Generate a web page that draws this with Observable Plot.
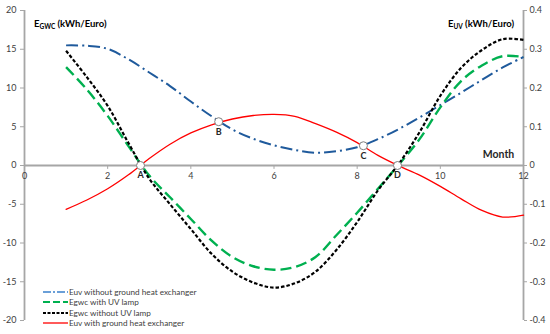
<!DOCTYPE html>
<html><head><meta charset="utf-8">
<script src="https://cdn.jsdelivr.net/npm/d3@7"></script>
<script src="https://cdn.jsdelivr.net/npm/@observablehq/plot@0.6"></script>
<style>
body{margin:0;background:#fff;}
#wrap{position:relative;width:550px;height:334px;font-family:Lato,"Open Sans",sans-serif;}
#wrap svg{display:block;}
.ttl{position:absolute;font-weight:bold;font-size:9.5px;color:#000;white-space:nowrap;line-height:1;}
.ttl sub{font-size:6.5px;vertical-align:-2px;}
#legend{position:absolute;left:43px;top:287px;font-size:8.2px;color:#404040;line-height:10.3px;}
#legend div{display:flex;align-items:center;white-space:nowrap;}
#legend svg{width:25px;height:10px;margin-right:1px;}
</style></head><body><div id="wrap"></div>
<script>
// Months (x) and series
const months = [1,1.5,2,2.5,3,3.5,4,4.5,5,5.5,6,6.5,7,7.5,8,8.5,9,9.5,10,10.5,11,11.5,12];
// E_UV (kWh/Euro), right axis
const euvWithoutGHE = [0.310,0.309,0.301,0.274,0.240,0.205,0.165,0.127,0.093,0.069,0.052,0.040,0.033,0.037,0.047,0.068,0.094,0.124,0.156,0.188,0.221,0.253,0.280];
const euvWithGHE    = [-0.113,-0.089,-0.060,-0.024,0.018,0.055,0.084,0.105,0.120,0.129,0.132,0.127,0.108,0.086,0.059,0.026,-0.001,-0.025,-0.054,-0.086,-0.116,-0.133,-0.128];
// E_GWC (kWh/Euro), left axis
const egwcWithUV    = [12.7,9.8,6.4,2.5,-1.3,-4.1,-6.9,-9.7,-11.8,-13.0,-13.45,-13.1,-11.8,-9.0,-6.1,-3.0,0.1,3.4,7.5,10.9,12.9,14.1,14.0];
const egwcWithoutUV = [14.8,11.4,7.7,2.9,-1.7,-5.0,-8.2,-11.4,-13.7,-15.1,-15.75,-15.2,-13.7,-10.9,-7.3,-3.2,0.2,4.3,9.0,12.6,14.9,16.3,16.2];
// Marked intersections
const pointLabels = ["A","B","C","D"];
const pointMonths = [2.79,4.67,8.15,8.97];
const pointEuv    = [0,0.113,0.051,0];
// Tick labels
const xTicks = [0,2,4,6,8,10,12];
const leftTicks = [-20,-15,-10,-5,0,5,10,15,20];
const rightTicks = [-0.4,-0.3,-0.2,-0.1,0,0.1,0.2,0.3,0.4];
const seriesNames = ["Euv without ground heat exchanger","Egwc with UV lamp","Egwc without UV lamp","Euv with ground heat exchanger"];
const leftTitle = ["E","GWC"," (kWh/Euro)"];
const rightTitle = ["E","UV"," (kWh/Euro)"];
const xTitle = "Month";

const k = 20 / 0.4; // right-axis to left-axis ratio
const axisColor = "#a6a6a6";
const styles = [
  {stroke:"#1f5a9c", strokeWidth:2, strokeDasharray:"12,4,2,4", strokeLinecap:"butt"},
  {stroke:"#00b050", strokeWidth:2.4, strokeDasharray:"11,5", strokeLinecap:"butt"},
  {stroke:"#000000", strokeWidth:2.2, strokeDasharray:"3.5,2", strokeLinecap:"butt"},
  {stroke:"#ff0000", strokeWidth:1.3}
];
const fmtR = d => { const v = Math.round(d / k * 10) / 10; return v === 0 ? "0" : String(v); };

const chart = Plot.plot({
  width: 550, height: 334,
  marginLeft: 24, marginRight: 27, marginTop: 10, marginBottom: 14,
  x: {domain: [0, 12], axis: null},
  y: {domain: [-20, 20]},
  style: {fontFamily: "Lato, 'Open Sans', sans-serif", fontSize: "9px", background: "white"},
  marks: [
    Plot.axisY(leftTicks, {anchor: "left", tickSize: 4, tickPadding: 4, tickFormat: d => String(d), label: null, stroke: axisColor, fill: "#404040"}),
    Plot.axisY(rightTicks.map(d => d * k), {anchor: "right", tickSize: 3, tickPadding: 3, tickFormat: fmtR, label: null, stroke: axisColor, fill: "#404040"}),
    Plot.ruleX([0, 12], {stroke: axisColor, strokeWidth: 1.8}),
    Plot.ruleY([0], {stroke: axisColor, strokeWidth: 1.8}),
    Plot.ruleX(xTicks, {x: d => d, y1: 0, y2: -0.5, stroke: axisColor, strokeWidth: 1}),
    Plot.text(xTicks, {x: d => d, y: 0, dy: 11, text: d => String(d), fill: "#404040"}),
    Plot.text([xTitle], {x: 11.4, y: 0, dy: -11, text: d => d, fontWeight: "bold", fill: "#262626", fontSize: 10.5}),
    Plot.line(euvWithoutGHE, {x: (d, i) => months[i], y: d => d * k, curve: "catmull-rom", ...styles[0]}),
    Plot.line(egwcWithUV, {x: (d, i) => months[i], y: d => d, curve: "catmull-rom", ...styles[1]}),
    Plot.line(egwcWithoutUV, {x: (d, i) => months[i], y: d => d, curve: "catmull-rom", ...styles[2]}),
    Plot.line(euvWithGHE, {x: (d, i) => months[i], y: d => d * k, curve: "catmull-rom", ...styles[3]}),
    Plot.dot(pointLabels, {x: (d, i) => pointMonths[i], y: (d, i) => pointEuv[i] * k, r: 4, fill: "white", stroke: "#7f7f7f", strokeWidth: 1}),
    Plot.text(pointLabels, {x: (d, i) => pointMonths[i], y: (d, i) => pointEuv[i] * k, dy: 10, text: d => d, fontWeight: "bold", fill: "#262626"})
  ]
});

const wrap = document.getElementById("wrap");
wrap.appendChild(chart);

const xs = chart.scale("x"), ys = chart.scale("y");
function addTitle(parts, left, top) {
  const d = document.createElement("div");
  d.className = "ttl";
  d.style.left = left + "px"; d.style.top = top + "px";
  d.innerHTML = parts[0] + "<sub>" + parts[1] + "</sub>" + parts[2];
  wrap.appendChild(d);
}
addTitle(leftTitle, xs.apply(0) + 10, ys.apply(18.8));
addTitle(rightTitle, xs.apply(12) - 75, ys.apply(18.8));

const legend = document.createElement("div");
legend.id = "legend";
seriesNames.forEach((name, i) => {
  const row = document.createElement("div");
  const s = styles[i];
  const col = i === 0 ? "#6a9fd8" : s.stroke;
  const dash = i === 0 ? "8,2,2,2" : i === 1 ? "7,3" : i === 2 ? "3,1.5" : "";
  row.innerHTML = `<svg viewBox="0 0 25 10"><line x1="0" x2="25" y1="5" y2="5" stroke="${col}" stroke-width="${Math.min(s.strokeWidth,2)}" ${dash ? `stroke-dasharray="${dash}"` : ""}/></svg><span>${name}</span>`;
  legend.appendChild(row);
});
wrap.appendChild(legend);
</script>
</body></html>
